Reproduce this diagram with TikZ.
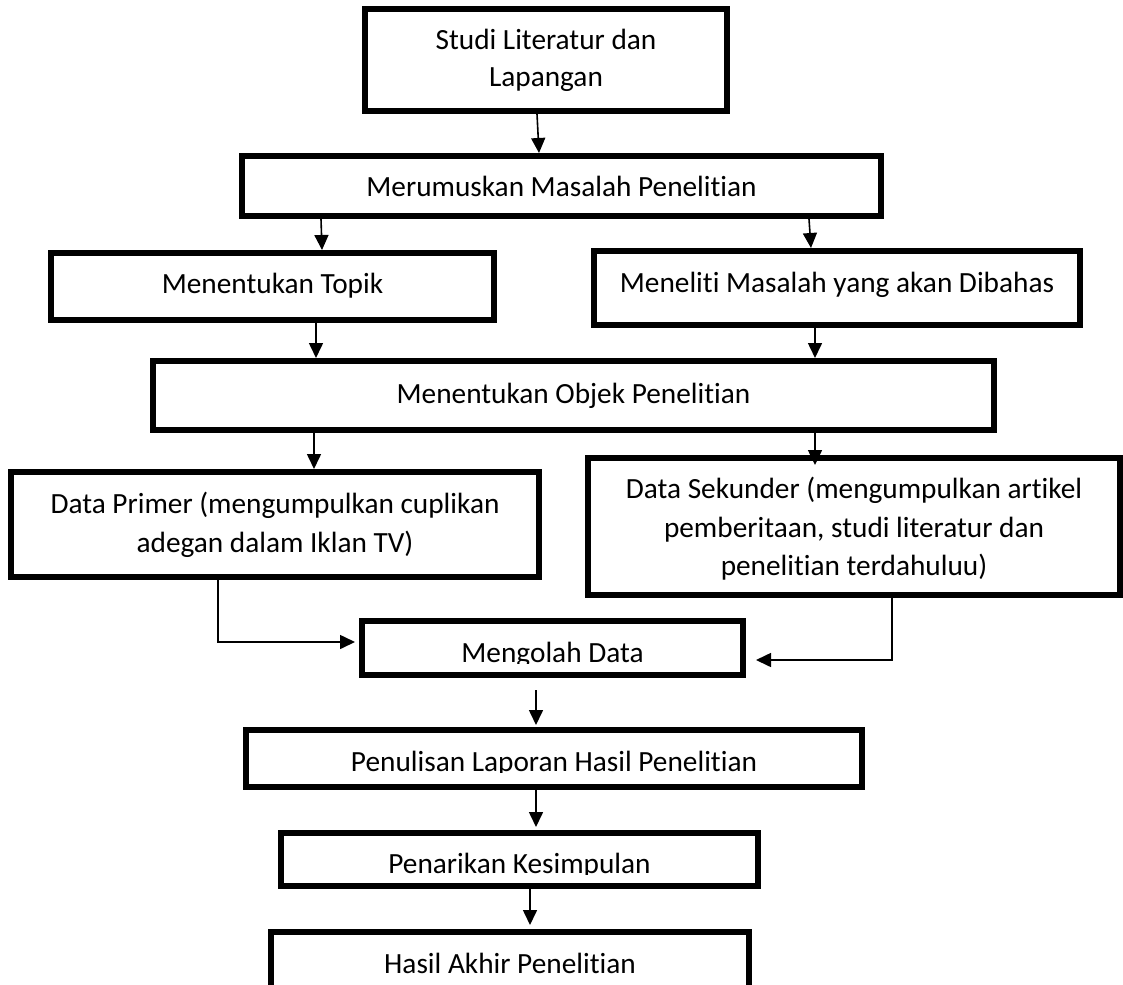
\documentclass[tikz,border=0pt]{standalone}
\usepackage{fontspec}
\setmainfont{Carlito}[RawFeature={-liga;-clig}]
\usetikzlibrary{arrows.meta}
\begin{document}
\begin{tikzpicture}[x=1pt,y=-1pt,
  box/.style={draw=black,line width=6pt,inner sep=0pt,outer sep=3pt,rectangle},
  lbl/.style={anchor=base,inner sep=0pt,outer sep=0pt,font=\fontsize{29.3}{38}\selectfont},
  arr/.style={-{Triangle[length=15pt,width=14pt]},line width=1.6pt}]
\useasboundingbox (0,0) rectangle (1123,984);
\fill[white] (0,0) rectangle (1123,984);

% boxes
\node[box,minimum width=362pt,minimum height=102pt] (b1) at (546,60) {};
\node[box,minimum width=639pt,minimum height=60pt] (b2) at (561.5,186) {};
\node[box,minimum width=443pt,minimum height=67pt] (b3) at (272.5,286.5) {};
\node[box,minimum width=486pt,minimum height=74pt] (b4) at (837,288) {};
\node[box,minimum width=841pt,minimum height=69pt] (b5) at (573.5,395.5) {};
\node[box,minimum width=528pt,minimum height=105pt] (b6) at (275,524.5) {};
\node[box,minimum width=532pt,minimum height=137pt] (b7) at (854,526.5) {};
\node[box,minimum width=381pt,minimum height=54pt] (b8) at (552.5,648) {};
\node[box,minimum width=616pt,minimum height=57pt] (b9) at (554,758.5) {};
\node[box,minimum width=477pt,minimum height=53pt] (b10) at (519.5,859.5) {};
\node[box,minimum width=478pt,minimum height=68pt] (b11) at (510,966) {};

% texts
\node[lbl] (t1a) at (546,50) {Studi Literatur dan};
\node[lbl] (t1b) at (546,87) {Lapangan};
\node[lbl] (t2) at (561.5,197) {Merumuskan Masalah Penelitian};
\node[lbl] (t3) at (272.5,293) {Menentukan Topik};
\node[lbl] (t4) at (837,292) {Meneliti Masalah yang akan Dibahas};
\node[lbl] (t5) at (573.5,403) {Menentukan Objek Penelitian};
\node[lbl] (t6a) at (275,513) {Data Primer (mengumpulkan cuplikan};
\node[lbl] (t6b) at (275,552) {adegan dalam Iklan TV)};
\node[lbl] (t7a) at (854,498) {Data Sekunder (mengumpulkan artikel};
\node[lbl] (t7b) at (854,537) {pemberitaan, studi literatur dan};
\node[lbl] (t7c) at (854,575) {penelitian terdahuluu)};
\begin{scope}
  \clip (362,625) rectangle (743,663);
  \node[lbl] (t8) at (552.5,662) {Mengolah Data};
\end{scope}
\begin{scope}
  \clip (246,733) rectangle (862,772);
  \node[lbl] (t9) at (554,771) {Penulisan Laporan Hasil Penelitian};
\end{scope}
\begin{scope}
  \clip (281,836) rectangle (758,874);
  \node[lbl] (t10) at (519.5,873) {Penarikan Kesimpulan};
\end{scope}
\node[lbl] (t11) at (510,973) {Hasil Akhir Penelitian};

% connectors
\draw[arr] ([xshift=-9pt]b1.south) -- ([xshift=-22.5pt]b2.north);
\draw[arr] ([xshift=-240.5pt]b2.south) -- ([xshift=49.5pt]b3.north);
\draw[arr] ([xshift=247.5pt]b2.south) -- ([xshift=-26pt]b4.north);
\draw[arr] ([xshift=43.5pt]b3.south) -- ([xshift=-257.5pt]b5.north);
\draw[arr] ([xshift=-22pt]b4.south) -- ([xshift=241.5pt]b5.north);
\draw[arr] ([xshift=-259.5pt]b5.south) -- ([xshift=39pt]b6.north);
\draw[arr] ([xshift=241.5pt]b5.south) -- ([xshift=-39pt,yshift=-10pt]b7.north);
\draw[arr] ([xshift=-57pt]b6.south) |- ([xshift=-4pt,yshift=6pt]b8.west);
\draw[arr] ([xshift=38pt]b7.south) |- ([xshift=10pt,yshift=-12pt]b8.east);
\draw[arr] ([xshift=-16.5pt,yshift=-12pt]b8.south) -- ([xshift=-18pt,yshift=2pt]b9.north);
\draw[arr] ([xshift=-18pt]b9.south) -- ([xshift=16.5pt,yshift=3pt]b10.north);
\draw[arr] ([xshift=10.5pt]b10.south) -- ([xshift=20pt,yshift=4pt]b11.north);
\end{tikzpicture}
\end{document}
